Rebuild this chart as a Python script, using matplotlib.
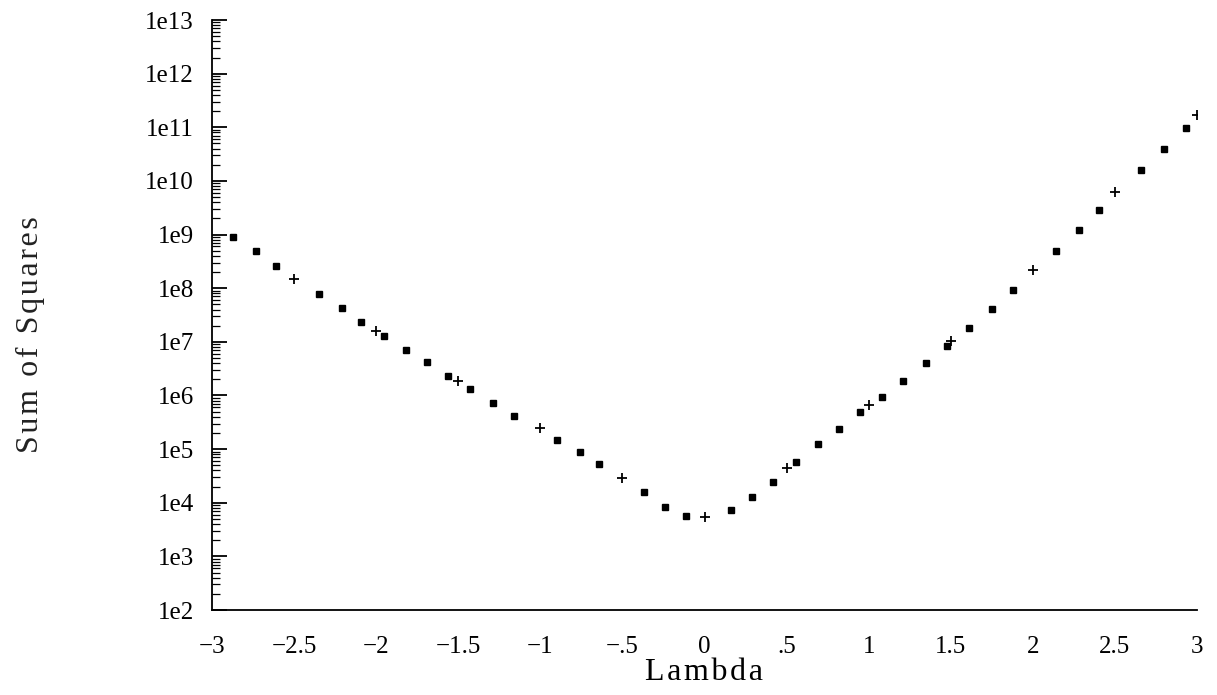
import matplotlib.pyplot as plt
from matplotlib.ticker import LogLocator, FixedLocator, NullFormatter

# Box-Cox style profile: sum of squares against lambda
sq_lambda = [-2.87, -2.73, -2.61, -2.35, -2.21, -2.09, -1.95, -1.82, -1.69,
             -1.56, -1.43, -1.29, -1.16, -0.90, -0.76, -0.64, -0.37, -0.24,
             -0.11, 0.16, 0.29, 0.42, 0.56, 0.69, 0.82, 0.95, 1.08, 1.21,
             1.35, 1.48, 1.61, 1.75, 1.88, 2.14, 2.28, 2.40, 2.66, 2.80, 2.93]
sq_ss = [9.1e8, 5.0e8, 2.6e8, 7.9e7, 4.3e7, 2.3e7, 1.3e7, 7.1e6, 4.2e6,
         2.3e6, 1.3e6, 7.2e5, 4.2e5, 1.5e5, 8.9e4, 5.3e4, 1.6e4, 8.3e3,
         5.6e3, 7.4e3, 1.3e4, 2.4e4, 5.8e4, 1.25e5, 2.4e5, 4.9e5, 9.3e5, 1.9e6,
         4.1e6, 8.5e6, 1.8e7, 4.1e7, 9.4e7, 5.0e8, 1.2e9, 2.9e9, 1.6e10, 4.0e10, 9.8e10]

plus_lambda = [-2.5, -2.0, -1.5, -1.0, -0.5, 0.0, 0.5, 1.0, 1.5, 2.0, 2.5, 3.0]
plus_ss = [1.5e8, 1.6e7, 1.9e6, 2.5e5, 2.9e4, 5.5e3, 4.5e4, 6.5e5, 1.05e7, 2.2e8, 6.3e9, 1.7e11]

x_ticks = [-3, -2.5, -2, -1.5, -1, -0.5, 0, 0.5, 1, 1.5, 2, 2.5, 3]
x_labels = ['\u22123', '\u22122.5', '\u22122', '\u22121.5', '\u22121', '\u2212.5',
            '0', '.5', '1', '1.5', '2', '2.5', '3']
y_ticks = [10.0 ** k for k in range(2, 14)]
y_labels = ['1e%d' % k for k in range(2, 14)]

plt.rcParams['font.family'] = ['Liberation Serif', 'DejaVu Serif']

fig = plt.figure(figsize=(12.17, 6.95), dpi=100)
ax = fig.add_axes([0.1742, 0.1223, 0.8094, 0.8489])

ax.plot(sq_lambda, sq_ss, 's', color='black', markersize=4.3, linestyle='none')
ax.plot(plus_lambda, plus_ss, '+', color='black', markersize=7, markeredgewidth=1.3,
        linestyle='none')

ax.set_yscale('log')
ax.set_xlim(-3, 3)
ax.set_ylim(1e2, 1e13)

ax.yaxis.set_major_locator(FixedLocator(y_ticks))
ax.set_yticklabels(y_labels)
ax.yaxis.set_minor_locator(LogLocator(base=10, subs=range(2, 10), numticks=100))
ax.yaxis.set_minor_formatter(NullFormatter())
ax.tick_params(axis='y', which='major', direction='in', length=11, width=1.3,
               labelsize=18, pad=13)
ax.tick_params(axis='y', which='minor', direction='in', length=6, width=0.9)

ax.set_xticks(x_ticks)
ax.set_xticklabels(x_labels)
ax.tick_params(axis='x', which='both', length=0, labelsize=18, pad=19)

for side in ['top', 'right']:
    ax.spines[side].set_visible(False)
ax.spines['left'].set_linewidth(1.3)
ax.spines['bottom'].set_linewidth(1.3)

# the scanned labels are widely letter-spaced; hair spaces mimic that
hair = '\u200a'
fig.text(704 / 1217, 1 - 673 / 695, hair.join('Lambda'), fontsize=23,
         ha='center', va='center')
fig.text(30 / 1217, 1 - 335 / 695, hair.join('Sum of Squares'), fontsize=23,
         rotation=90, ha='center', va='center', color='#222222')

fig.savefig('out.png', dpi=100)
